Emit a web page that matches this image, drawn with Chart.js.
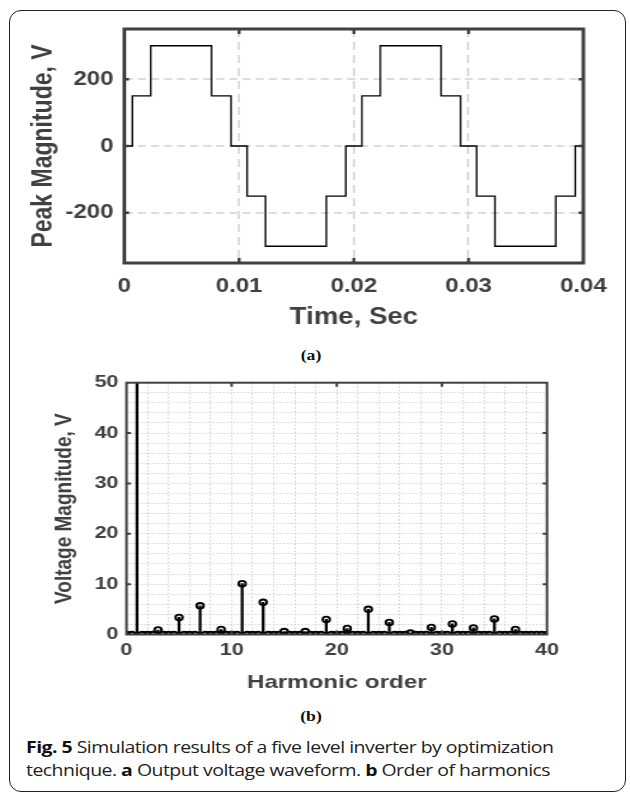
<!DOCTYPE html>
<html>
<head>
<meta charset="utf-8">
<script src="https://cdn.jsdelivr.net/npm/chart.js@4/dist/chart.umd.min.js"></script>
<style>
  body { margin: 0; background: #fff; width: 630px; height: 795px; overflow: hidden; position: relative; }
  .card { position: absolute; left: 9px; top: 10px; width: 615px; height: 780px; border: 1.5px solid #222; border-radius: 12px; }
  .plot { position: absolute; left: 0; transform-origin: 0 0; }
  .sub { position: absolute; left: 286px; width: 50px; text-align: center; font: bold 15px "Liberation Serif", serif; color: #111; transform: scaleX(1.18); }
  .caption { position: absolute; left: 26px; top: 735px; font: 16.5px "Open Sans", sans-serif; line-height: 23px; color: #222;
             letter-spacing: -0.45px; white-space: nowrap; transform: scaleX(1.18); transform-origin: 0 0; }
  .caption b { color: #111; }
</style>
</head>
<body>
<div class="card"></div>
<div class="plot" id="boxA" style="top:0; width:525px; height:340px; transform:scaleX(1.2);"><canvas id="wave"></canvas></div>
<div class="sub" style="top:347px;">(a)</div>
<div class="plot" id="boxB" style="top:360px; width:496px; height:340px; transform:scaleX(1.27);"><canvas id="harm"></canvas></div>
<div class="sub" style="top:708px;">(b)</div>
<div class="caption"><b>Fig. 5</b> Simulation results of a five level inverter by optimization<br>technique. <b>a</b> Output voltage waveform. <b>b</b> Order of harmonics</div>
<script>
// (a) output voltage waveform, step points (time s, volts)
const timeSec = [0, 0.0007, 0.0023, 0.0076, 0.0093, 0.0107, 0.0123, 0.0176, 0.0193,
                 0.0207, 0.0223, 0.0276, 0.0293, 0.0307, 0.0323, 0.0376, 0.0393, 0.04];
const peakV   = [0, 150, 300, 150, 0, -150, -300, -150, 0,
                 150, 300, 150, 0, -150, -300, -150, 0, 0];
const timeTicks = [0, 0.01, 0.02, 0.03, 0.04];
const voltTicks = [-200, 0, 200];

// (b) harmonic spectrum, 0.5 order resolution
const harmonicOrder = [0, 0.5, 1, 1.5, 2, 2.5, 3, 3.5, 4, 4.5, 5, 5.5, 6, 6.5, 7, 7.5, 8, 8.5, 9, 9.5,
  10, 10.5, 11, 11.5, 12, 12.5, 13, 13.5, 14, 14.5, 15, 15.5, 16, 16.5, 17, 17.5, 18, 18.5, 19, 19.5,
  20, 20.5, 21, 21.5, 22, 22.5, 23, 23.5, 24, 24.5, 25, 25.5, 26, 26.5, 27, 27.5, 28, 28.5, 29, 29.5,
  30, 30.5, 31, 31.5, 32, 32.5, 33, 33.5, 34, 34.5, 35, 35.5, 36, 36.5, 37, 37.5, 38, 38.5, 39, 39.5, 40];
const voltageMag = [0, 0, 325, 0, 0, 0, 0.9, 0, 0, 0, 3.4, 0, 0, 0, 5.7, 0, 0, 0, 1.0, 0,
  0, 0, 10.1, 0, 0, 0, 6.4, 0, 0, 0, 0.6, 0, 0, 0, 0.6, 0, 0, 0, 3.0, 0,
  0, 0, 1.2, 0, 0, 0, 5.0, 0, 0, 0, 2.4, 0, 0, 0, 0.3, 0, 0, 0, 1.4, 0,
  0, 0, 2.1, 0, 0, 0, 1.3, 0, 0, 0, 3.1, 0, 0, 0, 1.0, 0, 0, 0, 0, 0, 0];
const orderTicks = [0, 10, 20, 30, 40];
const magTicks = [0, 10, 20, 30, 40, 50];

const axisGray = '#404040';
const sans = '"Liberation Sans", Arial, sans-serif';

// box round the plot area plus inward tick marks on all four sides
const boxPlugin = {
  id: 'box',
  afterDatasetsDraw(chart, args, o) {
    const {ctx, chartArea: a, scales} = chart;
    ctx.save();
    ctx.strokeStyle = axisGray;
    ctx.lineWidth = o.tickWidth;
    ctx.beginPath();
    o.xTicks.forEach(v => {
      const px = scales.x.getPixelForValue(v);
      ctx.moveTo(px, a.top); ctx.lineTo(px, a.top + o.tickLen);
      ctx.moveTo(px, a.bottom); ctx.lineTo(px, a.bottom - o.tickLen);
    });
    o.yTicks.forEach(v => {
      const py = scales.y.getPixelForValue(v);
      ctx.moveTo(a.left, py); ctx.lineTo(a.left + o.tickLenX, py);
      ctx.moveTo(a.right, py); ctx.lineTo(a.right - o.tickLenX, py);
    });
    ctx.stroke();
    ctx.lineWidth = o.width;
    ctx.strokeRect(a.left, a.top, a.right - a.left, a.bottom - a.top);
    ctx.restore();
  }
};

const fixTicks = list => s => { s.ticks = list.map(v => ({value: v})); };

new Chart(document.getElementById('wave'), {
  type: 'line',
  data: {
    datasets: [{
      data: timeSec.map((t, i) => ({x: t, y: peakV[i]})),
      stepped: 'before',
      borderColor: '#000',
      borderWidth: 1.4,
      pointRadius: 0,
      fill: false
    }]
  },
  options: {
    responsive: true,
    maintainAspectRatio: false,
    animation: false,
    layout: {padding: {top: 29, left: 0, right: 38.9, bottom: 0}},
    plugins: {
      legend: {display: false},
      tooltip: {enabled: false},
      box: {xTicks: [0.01, 0.02, 0.03], yTicks: voltTicks, tickLen: 5, tickLenX: 4, tickWidth: 2.5, width: 3}
    },
    scales: {
      x: {
        type: 'linear', min: 0, max: 0.04,
        afterBuildTicks: fixTicks(timeTicks),
        afterFit: s => { s.height = 77; },
        grid: {color: '#dcdcdc', lineWidth: 2, drawTicks: false},
        border: {display: false, dash: [8, 5]},
        ticks: {padding: 11, color: axisGray, font: {family: sans, size: 20, weight: 'bold'},
          maxRotation: 0, autoSkip: false,
          callback: v => v === 0 ? '0' : v.toFixed(2)},
        title: {display: true, text: 'Time, Sec', color: axisGray,
          font: {family: sans, size: 23, weight: 'bold'}, padding: {top: 0, bottom: 9}}
      },
      y: {
        min: -350, max: 350,
        afterBuildTicks: fixTicks(voltTicks),
        afterFit: s => { s.width = 103.6; },
        grid: {color: '#dcdcdc', lineWidth: 2, drawTicks: false},
        border: {display: false, dash: [6.7, 4.2]},
        ticks: {padding: 9, color: axisGray, font: {family: sans, size: 20, weight: 'bold'}},
        title: {display: true, text: 'Peak Magnitude, V', color: axisGray,
          font: {family: sans, size: 23, weight: 'bold'}, padding: {top: 23, bottom: 0}}
      }
    }
  },
  plugins: [boxPlugin]
});

// minor grid every 2 units
const evenSteps = [];
for (let v = 0; v <= 50; v += 2) evenSteps.push(v);

new Chart(document.getElementById('harm'), {
  type: 'bar',
  data: {
    datasets: [
      {
        type: 'line', order: 0,
        data: harmonicOrder.map((h, i) => ({x: h, y: voltageMag[i]})),
        showLine: false,
        pointRadius: 2.8, pointBorderWidth: 1.9,
        pointBorderColor: '#000', pointBackgroundColor: 'rgba(0,0,0,0)'
      },
      {
        type: 'bar', order: 1,
        data: harmonicOrder.map((h, i) => ({x: h, y: voltageMag[i]})),
        backgroundColor: '#000',
        barThickness: 1.6
      },
      {
        type: 'line', order: 2,
        data: [{x: 0, y: 0}, {x: 40, y: 0}],
        borderColor: '#000', borderWidth: 1.5, pointRadius: 0
      }
    ]
  },
  options: {
    responsive: true,
    maintainAspectRatio: false,
    animation: false,
    layout: {padding: {top: 22.7, left: 0, right: 65.3, bottom: 0}},
    plugins: {
      legend: {display: false},
      tooltip: {enabled: false},
      box: {xTicks: [10, 20, 30], yTicks: [10, 20, 30, 40], tickLen: 4, tickLenX: 3.5, tickWidth: 2, width: 2}
    },
    scales: {
      x: {
        type: 'linear', min: 0, max: 40, offset: false,
        afterBuildTicks: fixTicks(evenSteps.filter(v => v <= 40)),
        afterFit: s => { s.height = 65.5; },
        grid: {color: '#cfcfcf', lineWidth: 1, drawTicks: false, offset: false},
        border: {display: false, dash: [1.5, 2]},
        ticks: {padding: 5.8, color: axisGray, font: {family: sans, size: 17, weight: 'bold'},
          maxRotation: 0, autoSkip: false,
          callback: v => orderTicks.includes(v) ? String(v) : ''},
        title: {display: true, text: 'Harmonic order', color: axisGray,
          font: {family: sans, size: 19, weight: 'bold'}, padding: {top: 0, bottom: 6}}
      },
      y: {
        min: 0, max: 50,
        afterBuildTicks: fixTicks(evenSteps),
        afterFit: s => { s.width = 99.6; },
        grid: {color: '#cfcfcf', lineWidth: 1, drawTicks: false},
        border: {display: false, dash: [1.2, 1.6]},
        ticks: {padding: 6.3, color: axisGray, font: {family: sans, size: 17, weight: 'bold'},
          autoSkip: false,
          callback: v => magTicks.includes(v) ? String(v) : ''},
        title: {display: true, text: 'Voltage Magnitude, V', color: axisGray,
          font: {family: sans, size: 19, weight: 'bold'}, padding: {top: 39, bottom: 0}}
      }
    }
  },
  plugins: [boxPlugin]
});
</script>
</body>
</html>
